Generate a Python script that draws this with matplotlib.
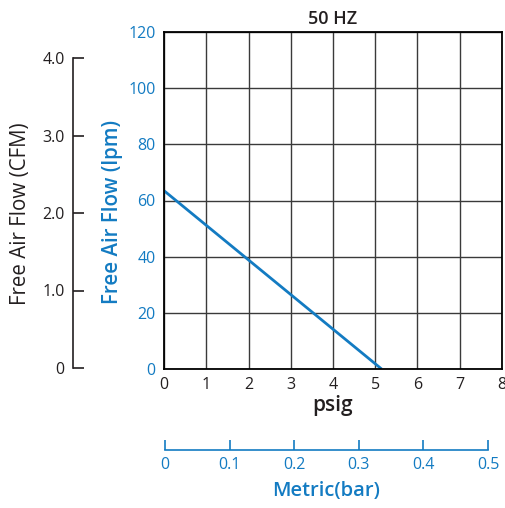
import matplotlib
matplotlib.use("Agg")
import matplotlib.pyplot as plt

plt.rcParams['font.family'] = ['Open Sans', 'DejaVu Sans']

# data
psig = [0, 5.15]
lpm = [63.5, 0]
psig_ticks = [0, 1, 2, 3, 4, 5, 6, 7, 8]
lpm_ticks = [0, 20, 40, 60, 80, 100, 120]
cfm_ticks = [0, 1.0, 2.0, 3.0, 4.0]
cfm_labels = ['0', '1.0', '2.0', '3.0', '4.0']
bar_ticks = [0, 0.1, 0.2, 0.3, 0.4, 0.5]
bar_labels = ['0', '0.1', '0.2', '0.3', '0.4', '0.5']

blue = '#137bc2'
dark = '#231f20'

fig = plt.figure(figsize=(5.06, 5.08), dpi=100)

# main plot
ax = fig.add_axes([164 / 506, 1 - 369 / 508, 338 / 506, 337 / 508])
ax.plot(psig, lpm, color=blue, lw=2.0, solid_capstyle='butt')
ax.set_xlim(0, 8)
ax.set_ylim(0, 120)
ax.set_xticks(psig_ticks)
ax.set_yticks(lpm_ticks)
ax.grid(True, color='#3a3a3a', lw=1.0)
ax.set_axisbelow(True)
for s in ax.spines.values():
    s.set_color('black')
    s.set_linewidth(1.3)
ax.tick_params(axis='both', length=0)
ax.tick_params(axis='x', labelsize=11.5, labelcolor=dark, pad=6)
ax.tick_params(axis='y', labelsize=11.5, labelcolor=blue, pad=6)
ax.set_xlabel('psig', fontsize=15, color=dark, fontweight='semibold', labelpad=1)
ax.set_title('50 HZ', fontsize=13, color=dark, fontweight='semibold', pad=6)

# the two flow axis titles
fig.text(113 / 506, 1 - 212 / 508, 'Free Air Flow (lpm)', rotation=90, ha='center', va='center',
         fontsize=14.8, color=blue, fontweight='semibold')
fig.text(21 / 506, 1 - 214 / 508, 'Free Air Flow (CFM)', rotation=90, ha='center', va='center',
         fontsize=14.8, color=dark)

# CFM scale on the far left
ax_cfm = fig.add_axes([73 / 506, 1 - 368 / 508, 0.0001, 310 / 508])
ax_cfm.set_ylim(0, 4.0)
ax_cfm.set_yticks(cfm_ticks)
ax_cfm.set_yticklabels(cfm_labels)
ax_cfm.set_xticks([])
for k in ['top', 'right', 'bottom']:
    ax_cfm.spines[k].set_visible(False)
ax_cfm.spines['left'].set_color(dark)
ax_cfm.spines['left'].set_linewidth(1.2)
ax_cfm.patch.set_visible(False)
ax_cfm.tick_params(axis='y', direction='in', length=8, width=1.2, color=dark,
                   labelsize=11.5, labelcolor=dark, pad=6)

# metric (bar) scale below
ax_bar = fig.add_axes([165 / 506, 1 - 450 / 508, 323 / 506, 0.0001])
ax_bar.set_xlim(0, 0.5)
ax_bar.set_xticks(bar_ticks)
ax_bar.set_xticklabels(bar_labels)
ax_bar.set_yticks([])
for k in ['top', 'right', 'left']:
    ax_bar.spines[k].set_visible(False)
ax_bar.spines['bottom'].set_color(blue)
ax_bar.spines['bottom'].set_linewidth(1.2)
ax_bar.patch.set_visible(False)
ax_bar.tick_params(axis='x', direction='in', length=7, width=1.2, color=blue,
                   labelsize=11.5, labelcolor=blue, pad=5)
ax_bar.set_xlabel('Metric(bar)', fontsize=14.5, color=blue, fontweight='semibold', labelpad=6)

fig.savefig('out.png', dpi=100)
